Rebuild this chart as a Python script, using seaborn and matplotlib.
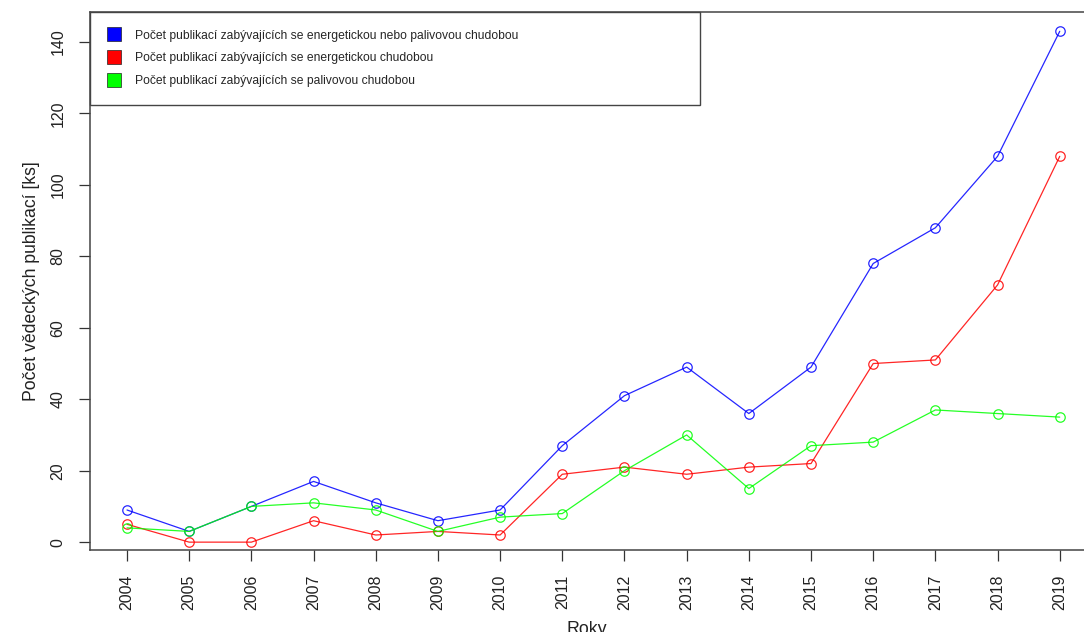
import matplotlib
matplotlib.use("Agg")
import matplotlib.pyplot as plt
from matplotlib.lines import Line2D
import pandas as pd
import seaborn as sns

years = list(range(2004, 2020))
energy_or_fuel = [9, 3, 10, 17, 11, 6, 9, 27, 41, 49, 36, 49, 78, 88, 108, 143]
energy = [5, 0, 0, 6, 2, 3, 2, 19, 21, 19, 21, 22, 50, 51, 72, 108]
fuel = [4, 3, 10, 11, 9, 3, 7, 8, 20, 30, 15, 27, 28, 37, 36, 35]

labels = [
    "Počet publikací zabývajících se energetickou nebo palivovou chudobou",
    "Počet publikací zabývajících se energetickou chudobou",
    "Počet publikací zabývajících se palivovou chudobou",
]
colors = ["#0000FF", "#FF0000", "#00FF00"]

sns.set_style("ticks")
plt.rcParams["font.family"] = ["Liberation Sans", "DejaVu Sans"]

fig = plt.figure(figsize=(10.84, 6.32), dpi=100)
ax = fig.add_axes([90 / 1084, 82 / 632, 1 - 90 / 1084, 538 / 632])

df = pd.DataFrame({"rok": years * 3,
                   "pocet": energy_or_fuel + energy + fuel,
                   "serie": [labels[0]] * 16 + [labels[1]] * 16 + [labels[2]] * 16})

for lab, col in zip(labels, colors):
    sns.lineplot(data=df[df["serie"] == lab], x="rok", y="pocet", ax=ax,
                 color=col, linewidth=0.9, alpha=0.85, marker="o",
                 markersize=6.8, markerfacecolor="none", markeredgecolor=col,
                 markeredgewidth=0.9, legend=False)

ax.set_xlim(2003.405, 2019.39)
ax.set_ylim(-2.2, 148.4)
ax.set_xticks(years)
ax.set_xticklabels([str(y) for y in years], rotation=90)
ax.set_yticks(range(0, 141, 20))
ax.set_yticklabels([str(v) for v in range(0, 141, 20)], rotation=90, va="center")
ax.tick_params(axis="both", direction="out", length=8, width=0.9,
               color="#333333", labelsize=11.5, labelcolor="#222222", pad=9.5)
for s in ax.spines.values():
    s.set_color("#444444")
    s.set_linewidth(1.1)
ax.spines["right"].set_visible(False)

ax.set_xlabel("Roky", fontsize=12.8, labelpad=8, color="#222222")
ax.set_ylabel("Počet vědeckých publikací [ks]", fontsize=12.7, labelpad=8,
              color="#222222")

handles = [Line2D([], [], linestyle="none", marker="s", markersize=9.4,
                  markerfacecolor=c, markeredgecolor="#222222", markeredgewidth=0.5)
           for c in colors]
leg = ax.legend(handles, labels, loc="upper left",
                bbox_to_anchor=(0, 0.999, 0.614, 0.001), mode="expand",
                borderaxespad=0, fancybox=False, framealpha=1,
                edgecolor="#444444", fontsize=8.7, handlelength=1.0,
                handletextpad=1.28, labelspacing=0.9, borderpad=1.45)
leg.get_frame().set_linewidth(1.0)

fig.savefig("out.png", dpi=100)
